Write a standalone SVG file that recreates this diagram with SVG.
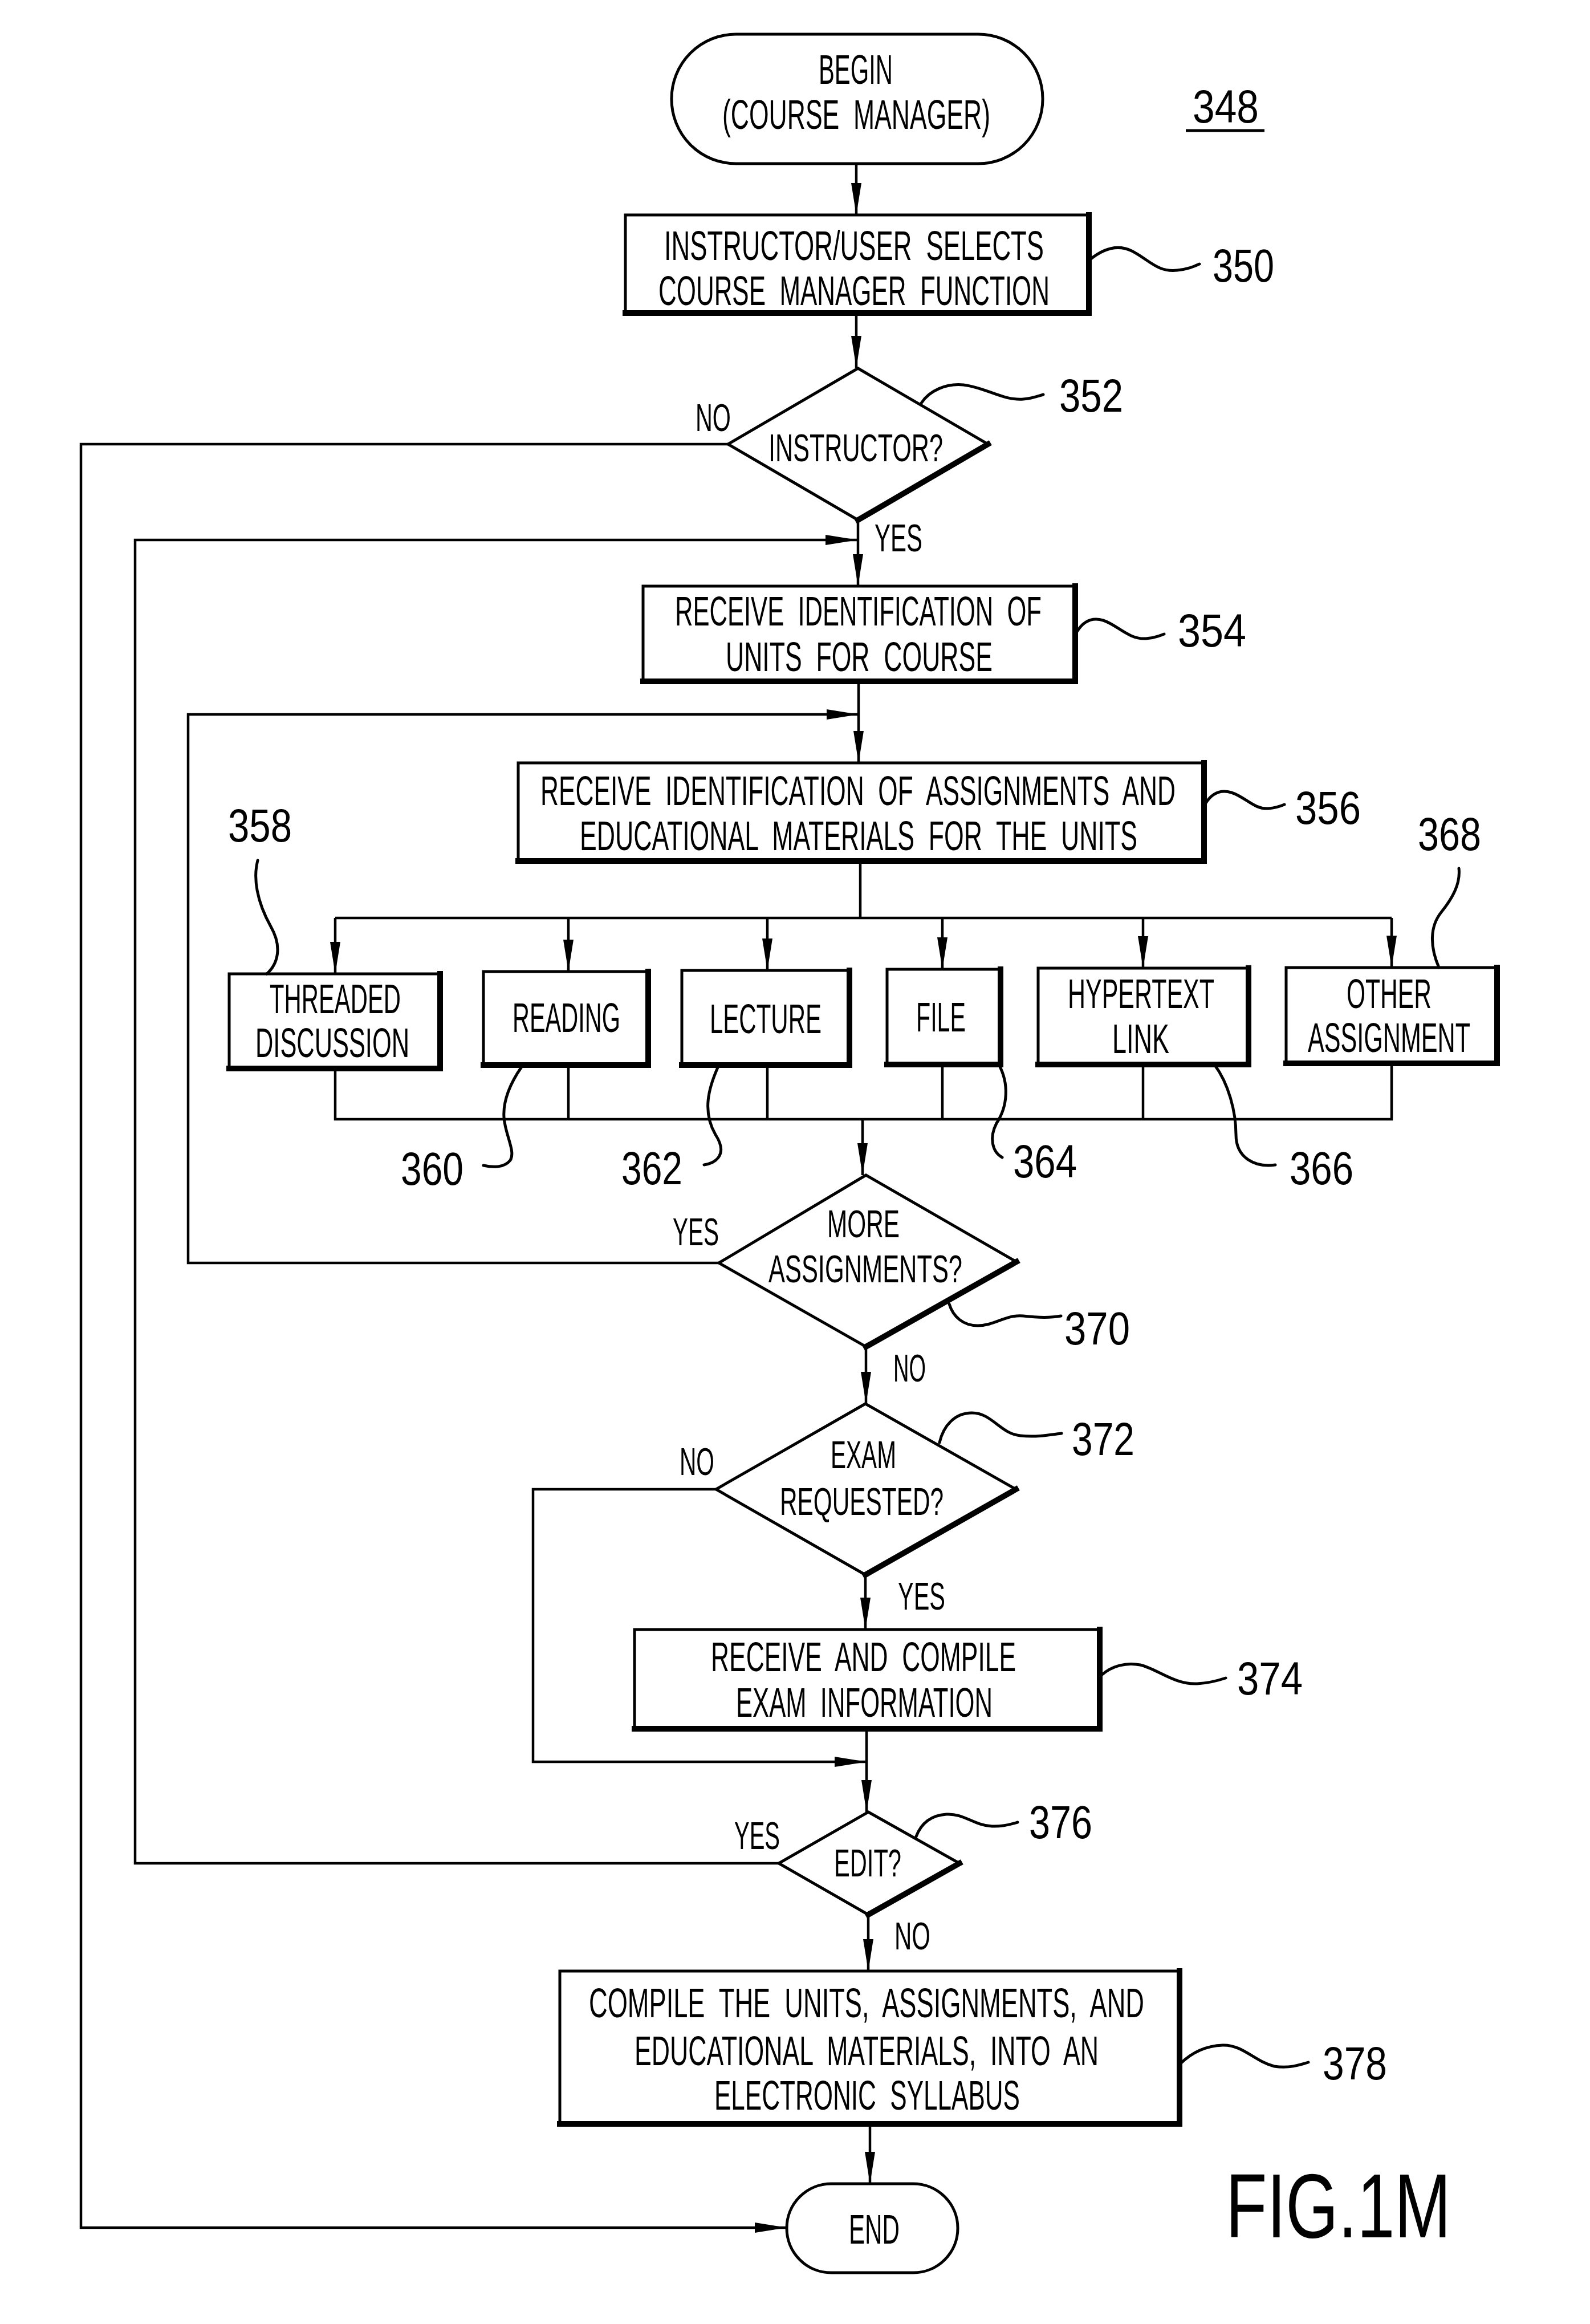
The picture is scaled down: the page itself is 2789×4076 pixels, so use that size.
<svg xmlns="http://www.w3.org/2000/svg" width="2789" height="4076" viewBox="0 0 2789 4076">
<style>
.bg{fill:#fff}
.box{fill:none;stroke:#000;stroke-width:5}
.sh{fill:none;stroke:#000;stroke-width:10;stroke-linecap:square}
.ln{fill:none;stroke:#000;stroke-width:4.5}
.ld{fill:none;stroke:#000;stroke-width:5;stroke-linecap:round}
text{font-family:"Liberation Sans",Arial,sans-serif;fill:#000;white-space:pre}
.t{font-size:72px}
.s{font-size:68px}
.n{font-size:82px}
.f{font-size:159px}
</style>
<defs>
<marker id="ah" markerUnits="userSpaceOnUse" markerWidth="60" markerHeight="24" viewBox="-58 -12 60 24" refX="0" refY="0" orient="auto">
<path d="M0,0 L-56,-9 L-56,9 Z" fill="#000"/>
</marker>
</defs>
<rect class="bg" x="0" y="0" width="2789" height="4076"/>

<g id="connectors">
<path class="ln" d="M1502,287 V377" marker-end="url(#ah)"/>
<path class="ln" d="M1502,549 V645" marker-end="url(#ah)"/>
<path class="ln" d="M1505,912 V1028" marker-end="url(#ah)"/>
<path class="ln" d="M1366,3268 H237 V947 H1504" marker-end="url(#ah)"/>
<path class="ln" d="M1506,1195 V1338" marker-end="url(#ah)"/>
<path class="ln" d="M1261,2215 H330 V1253 H1506" marker-end="url(#ah)"/>
<path class="ln" d="M1509,1510 V1610 M588,1610 H2441"/>
<path class="ln" d="M588,1610 V1708" marker-end="url(#ah)"/>
<path class="ln" d="M997,1610 V1704" marker-end="url(#ah)"/>
<path class="ln" d="M1346,1610 V1702" marker-end="url(#ah)"/>
<path class="ln" d="M1653,1610 V1700" marker-end="url(#ah)"/>
<path class="ln" d="M2005,1610 V1698" marker-end="url(#ah)"/>
<path class="ln" d="M2441,1610 V1697" marker-end="url(#ah)"/>
<path class="ln" d="M588,1874 V1963 H2441 V1865 M997,1868 V1963 M1346,1868 V1963 M1653,1867 V1963 M2005,1867 V1963"/>
<path class="ln" d="M1513,1963 V2061" marker-end="url(#ah)"/>
<path class="ln" d="M1519,2362 V2462" marker-end="url(#ah)"/>
<path class="ln" d="M1256,2612 H935 V3090 H1520" marker-end="url(#ah)"/>
<path class="ln" d="M1518,2762 V2858" marker-end="url(#ah)"/>
<path class="ln" d="M1520,3032 V3178" marker-end="url(#ah)"/>
<path class="ln" d="M1523,3358 V3457" marker-end="url(#ah)"/>
<path class="ln" d="M1526,3725 V3830" marker-end="url(#ah)"/>
<path class="ln" d="M1277,779 H142 V3907 H1380" marker-end="url(#ah)"/>
</g>

<g id="begin">
<rect class="box" x="1178" y="60" width="651" height="227" rx="113" ry="113" stroke-width="6"/>
<text class="t" x="1436" y="147" transform="matrix(0.63,0,0,1,531.32,0)" textLength="206.3" lengthAdjust="spacingAndGlyphs">BEGIN</text>
<text class="t" x="1267" y="226" transform="matrix(0.63,0,0,1,468.79,0)" textLength="746" lengthAdjust="spacingAndGlyphs">(COURSE  MANAGER)</text>
</g>

<g id="label348">
<text class="n" x="2092" y="215" transform="matrix(0.84,0,0,1,334.72,0)" textLength="138.1" lengthAdjust="spacingAndGlyphs">348</text>
<path d="M2080,229 H2218" stroke="#000" stroke-width="5"/>
</g>

<g id="n350">
<rect class="box" x="1097" y="377" width="813" height="172"/>
<path class="sh" d="M1910,377 V549 H1097"/>
<text class="t" x="1165" y="456" transform="matrix(0.63,0,0,1,431.05,0)" textLength="1057.1" lengthAdjust="spacingAndGlyphs">INSTRUCTOR/USER  SELECTS</text>
<text class="t" x="1155" y="535" transform="matrix(0.63,0,0,1,427.35,0)" textLength="1088.9" lengthAdjust="spacingAndGlyphs">COURSE  MANAGER  FUNCTION</text>
<path class="ld" d="M1911,456 C1935,436 1960,428 1985,440 C2015,455 2030,478 2065,474 C2085,472 2095,467 2104,463"/>
<text class="n" x="2127" y="494" transform="matrix(0.84,0,0,1,340.32,0)" textLength="128.6" lengthAdjust="spacingAndGlyphs">350</text>
</g>

<g id="n352">
<polygon class="box" points="1505,646 1733,779 1505,912 1277,779"/>
<path class="sh" d="M1733,779 L1505,912" stroke-linecap="round"/>
<text class="s" x="1348" y="809" transform="matrix(0.63,0,0,1,498.76,0)" textLength="485.7" lengthAdjust="spacingAndGlyphs">INSTRUCTOR?</text>
<text class="s" x="1220" y="756" transform="matrix(0.63,0,0,1,451.4,0)" textLength="98.4" lengthAdjust="spacingAndGlyphs">NO</text>
<text class="s" x="1534" y="967" transform="matrix(0.63,0,0,1,567.58,0)" textLength="133.3" lengthAdjust="spacingAndGlyphs">YES</text>
<path class="ld" d="M1616,707 C1630,685 1660,672 1690,675 C1730,680 1760,703 1795,700 C1810,699 1820,695 1830,692"/>
<text class="n" x="1858" y="722" transform="matrix(0.84,0,0,1,297.28,0)" textLength="133.3" lengthAdjust="spacingAndGlyphs">352</text>
</g>

<g id="n354">
<rect class="box" x="1128" y="1028" width="758" height="167"/>
<path class="sh" d="M1886,1028 V1195 H1128"/>
<text class="t" x="1184" y="1097" transform="matrix(0.63,0,0,1,438.08,0)" textLength="1020.6" lengthAdjust="spacingAndGlyphs">RECEIVE  IDENTIFICATION  OF</text>
<text class="t" x="1273" y="1177" transform="matrix(0.63,0,0,1,471.01,0)" textLength="742.9" lengthAdjust="spacingAndGlyphs">UNITS  FOR  COURSE</text>
<path class="ld" d="M1889,1108 C1900,1090 1915,1082 1935,1088 C1960,1096 1980,1122 2010,1120 C2025,1119 2035,1115 2042,1112"/>
<text class="n" x="2066" y="1134" transform="matrix(0.84,0,0,1,330.56,0)" textLength="142.9" lengthAdjust="spacingAndGlyphs">354</text>
</g>

<g id="n356">
<rect class="box" x="909" y="1338" width="1203" height="172"/>
<path class="sh" d="M2112,1338 V1510 H909"/>
<text class="t" x="948" y="1412" transform="matrix(0.63,0,0,1,350.76,0)" textLength="1768.3" lengthAdjust="spacingAndGlyphs">RECEIVE  IDENTIFICATION  OF  ASSIGNMENTS  AND</text>
<text class="t" x="1017" y="1491" transform="matrix(0.63,0,0,1,376.29,0)" textLength="1552.4" lengthAdjust="spacingAndGlyphs">EDUCATIONAL  MATERIALS  FOR  THE  UNITS</text>
<path class="ld" d="M2114,1410 C2125,1392 2140,1384 2160,1390 C2185,1398 2200,1420 2225,1418 C2238,1417 2246,1414 2253,1411"/>
<text class="n" x="2272" y="1445" transform="matrix(0.84,0,0,1,363.52,0)" textLength="136.9" lengthAdjust="spacingAndGlyphs">356</text>
</g>

<g id="n358">
<rect class="box" x="402" y="1708" width="370" height="166"/>
<path class="sh" d="M772,1708 V1874 H402"/>
<text class="t" x="473" y="1777" transform="matrix(0.63,0,0,1,175.01,0)" textLength="365.1" lengthAdjust="spacingAndGlyphs">THREADED</text>
<text class="t" x="448" y="1854" transform="matrix(0.63,0,0,1,165.76,0)" textLength="428.6" lengthAdjust="spacingAndGlyphs">DISCUSSION</text>
<path class="ld" d="M452,1509 C444,1540 450,1580 475,1625 C495,1660 488,1690 468,1708"/>
<text class="n" x="400" y="1476" transform="matrix(0.84,0,0,1,64,0)" textLength="133.3" lengthAdjust="spacingAndGlyphs">358</text>
</g>

<g id="n360">
<rect class="box" x="848" y="1704" width="289" height="164"/>
<path class="sh" d="M1137,1704 V1868 H848"/>
<text class="t" x="899" y="1810" transform="matrix(0.63,0,0,1,332.63,0)" textLength="300" lengthAdjust="spacingAndGlyphs">READING</text>
<path class="ld" d="M915,1871 C895,1900 882,1930 884,1960 C886,1990 905,2020 895,2035 C885,2048 865,2048 848,2044"/>
<text class="n" x="703" y="2078" transform="matrix(0.84,0,0,1,112.48,0)" textLength="131" lengthAdjust="spacingAndGlyphs">360</text>
</g>

<g id="n362">
<rect class="box" x="1196" y="1702" width="294" height="166"/>
<path class="sh" d="M1490,1702 V1868 H1196"/>
<text class="t" x="1245" y="1812" transform="matrix(0.63,0,0,1,460.65,0)" textLength="311.1" lengthAdjust="spacingAndGlyphs">LECTURE</text>
<path class="ld" d="M1260,1870 C1242,1910 1232,1950 1255,1990 C1278,2025 1255,2040 1235,2043"/>
<text class="n" x="1090" y="2077" transform="matrix(0.84,0,0,1,174.4,0)" textLength="127.4" lengthAdjust="spacingAndGlyphs">362</text>
</g>

<g id="n364">
<rect class="box" x="1556" y="1700" width="199" height="167"/>
<path class="sh" d="M1755,1700 V1867 H1556"/>
<text class="t" x="1607" y="1809" transform="matrix(0.63,0,0,1,594.59,0)" textLength="138.1" lengthAdjust="spacingAndGlyphs">FILE</text>
<path class="ld" d="M1752,1867 C1770,1900 1768,1940 1748,1970 C1735,1995 1740,2020 1758,2030"/>
<text class="n" x="1777" y="2065" transform="matrix(0.84,0,0,1,284.32,0)" textLength="133.3" lengthAdjust="spacingAndGlyphs">364</text>
</g>

<g id="n366">
<rect class="box" x="1821" y="1698" width="369" height="169"/>
<path class="sh" d="M2190,1698 V1867 H1821"/>
<text class="t" x="1873" y="1768" transform="matrix(0.63,0,0,1,693.01,0)" textLength="407.9" lengthAdjust="spacingAndGlyphs">HYPERTEXT</text>
<text class="t" x="1951" y="1847" transform="matrix(0.63,0,0,1,721.87,0)" textLength="158.7" lengthAdjust="spacingAndGlyphs">LINK</text>
<path class="ld" d="M2130,1867 C2155,1900 2168,1950 2168,1990 C2168,2030 2200,2048 2237,2043"/>
<text class="n" x="2262" y="2077" transform="matrix(0.84,0,0,1,361.92,0)" textLength="133.3" lengthAdjust="spacingAndGlyphs">366</text>
</g>

<g id="n368">
<rect class="box" x="2256" y="1697" width="370" height="168"/>
<path class="sh" d="M2626,1697 V1865 H2256"/>
<text class="t" x="2362" y="1768" transform="matrix(0.63,0,0,1,873.94,0)" textLength="236.5" lengthAdjust="spacingAndGlyphs">OTHER</text>
<text class="t" x="2294" y="1845" transform="matrix(0.63,0,0,1,848.78,0)" textLength="452.4" lengthAdjust="spacingAndGlyphs">ASSIGNMENT</text>
<path class="ld" d="M2524,1697 C2508,1660 2508,1625 2528,1600 C2548,1575 2562,1550 2559,1523"/>
<text class="n" x="2487" y="1491" transform="matrix(0.84,0,0,1,397.92,0)" textLength="132.1" lengthAdjust="spacingAndGlyphs">368</text>
</g>

<g id="n370">
<polygon class="box" points="1519,2061 1783,2213 1519,2362 1261,2215"/>
<path class="sh" d="M1783,2213 L1519,2362" stroke-linecap="round"/>
<text class="s" x="1451" y="2170" transform="matrix(0.63,0,0,1,536.87,0)" textLength="201.6" lengthAdjust="spacingAndGlyphs">MORE</text>
<text class="s" x="1348" y="2249" transform="matrix(0.63,0,0,1,498.76,0)" textLength="539.7" lengthAdjust="spacingAndGlyphs">ASSIGNMENTS?</text>
<text class="s" x="1180" y="2184" transform="matrix(0.63,0,0,1,436.6,0)" textLength="128.6" lengthAdjust="spacingAndGlyphs">YES</text>
<text class="s" x="1567" y="2423" transform="matrix(0.63,0,0,1,579.79,0)" textLength="90.5" lengthAdjust="spacingAndGlyphs">NO</text>
<path class="ld" d="M1665,2287 C1672,2310 1690,2325 1715,2325 C1745,2325 1765,2305 1795,2308 C1820,2311 1840,2312 1861,2308"/>
<text class="n" x="1867" y="2358" transform="matrix(0.84,0,0,1,298.72,0)" textLength="136.9" lengthAdjust="spacingAndGlyphs">370</text>
</g>

<g id="n372">
<polygon class="box" points="1518,2462 1782,2612 1518,2762 1256,2612"/>
<path class="sh" d="M1782,2612 L1518,2762" stroke-linecap="round"/>
<text class="s" x="1457" y="2575" transform="matrix(0.63,0,0,1,539.09,0)" textLength="182.5" lengthAdjust="spacingAndGlyphs">EXAM</text>
<text class="s" x="1368" y="2657" transform="matrix(0.63,0,0,1,506.16,0)" textLength="455.6" lengthAdjust="spacingAndGlyphs">REQUESTED?</text>
<text class="s" x="1192" y="2587" transform="matrix(0.63,0,0,1,441.04,0)" textLength="96.8" lengthAdjust="spacingAndGlyphs">NO</text>
<text class="s" x="1575" y="2823" transform="matrix(0.63,0,0,1,582.75,0)" textLength="131.7" lengthAdjust="spacingAndGlyphs">YES</text>
<path class="ld" d="M1648,2530 C1655,2500 1675,2478 1705,2478 C1740,2478 1755,2515 1790,2518 C1820,2521 1845,2516 1862,2514"/>
<text class="n" x="1880" y="2552" transform="matrix(0.84,0,0,1,300.8,0)" textLength="131" lengthAdjust="spacingAndGlyphs">372</text>
</g>

<g id="n374">
<rect class="box" x="1113" y="2858" width="816" height="174"/>
<path class="sh" d="M1929,2858 V3032 H1113"/>
<text class="t" x="1247" y="2931" transform="matrix(0.63,0,0,1,461.39,0)" textLength="849.2" lengthAdjust="spacingAndGlyphs">RECEIVE  AND  COMPILE</text>
<text class="t" x="1291" y="3011" transform="matrix(0.63,0,0,1,477.67,0)" textLength="714.3" lengthAdjust="spacingAndGlyphs">EXAM  INFORMATION</text>
<path class="ld" d="M1932,2938 C1950,2922 1975,2915 2000,2920 C2030,2927 2060,2955 2100,2953 C2120,2952 2135,2948 2150,2943"/>
<text class="n" x="2170" y="2972" transform="matrix(0.84,0,0,1,347.2,0)" textLength="136.9" lengthAdjust="spacingAndGlyphs">374</text>
</g>

<g id="n376">
<polygon class="box" points="1523,3178 1683,3268 1523,3358 1366,3268"/>
<path class="sh" d="M1683,3268 L1523,3358" stroke-linecap="round"/>
<text class="s" x="1463" y="3291" transform="matrix(0.63,0,0,1,541.31,0)" textLength="187.3" lengthAdjust="spacingAndGlyphs">EDIT?</text>
<text class="s" x="1288" y="3243" transform="matrix(0.63,0,0,1,476.56,0)" textLength="127" lengthAdjust="spacingAndGlyphs">YES</text>
<text class="s" x="1569" y="3419" transform="matrix(0.63,0,0,1,580.53,0)" textLength="100" lengthAdjust="spacingAndGlyphs">NO</text>
<path class="ld" d="M1607,3221 C1615,3200 1630,3184 1660,3182 C1690,3180 1710,3202 1740,3203 C1760,3204 1775,3199 1785,3196"/>
<text class="n" x="1805" y="3224" transform="matrix(0.84,0,0,1,288.8,0)" textLength="132.1" lengthAdjust="spacingAndGlyphs">376</text>
</g>

<g id="n378">
<rect class="box" x="982" y="3457" width="1087" height="268"/>
<path class="sh" d="M2069,3457 V3725 H982"/>
<text class="t" x="1033" y="3538" transform="matrix(0.63,0,0,1,382.21,0)" textLength="1546" lengthAdjust="spacingAndGlyphs">COMPILE  THE  UNITS,  ASSIGNMENTS,  AND</text>
<text class="t" x="1113" y="3622" transform="matrix(0.63,0,0,1,411.81,0)" textLength="1292.1" lengthAdjust="spacingAndGlyphs">EDUCATIONAL  MATERIALS,  INTO  AN</text>
<text class="t" x="1253" y="3700" transform="matrix(0.63,0,0,1,463.61,0)" textLength="850.8" lengthAdjust="spacingAndGlyphs">ELECTRONIC  SYLLABUS</text>
<path class="ld" d="M2070,3620 C2090,3600 2115,3588 2145,3587 C2180,3586 2200,3615 2235,3624 C2260,3628 2280,3622 2295,3617"/>
<text class="n" x="2320" y="3647" transform="matrix(0.84,0,0,1,371.2,0)" textLength="134.5" lengthAdjust="spacingAndGlyphs">378</text>
</g>

<g id="end">
<rect class="box" x="1380" y="3830" width="300" height="156" rx="78" ry="78" stroke-width="6"/>
<text class="t" x="1489" y="3935" transform="matrix(0.63,0,0,1,550.93,0)" textLength="141.3" lengthAdjust="spacingAndGlyphs">END</text>
</g>

<g id="figlabel">
<text class="f" x="2150" y="3924" transform="matrix(0.75,0,0,1,537.5,0)" textLength="526.7" lengthAdjust="spacingAndGlyphs">FIG.1M</text>
</g>
</svg>
